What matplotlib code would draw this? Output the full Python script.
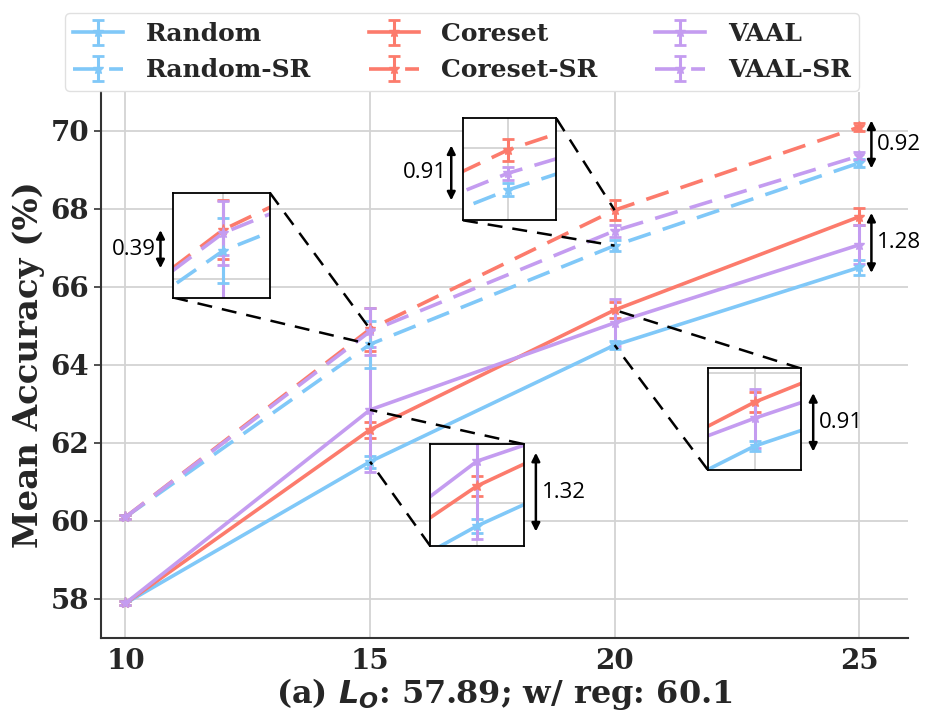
import numpy as np
import matplotlib
matplotlib.use("Agg")
import matplotlib.pyplot as plt

plt.rcParams['font.family'] = ['DejaVu Serif']
plt.rcParams['font.weight'] = 'bold'
plt.rcParams['axes.labelweight'] = 'bold'
plt.rcParams['mathtext.fontset'] = 'custom'
plt.rcParams['mathtext.it'] = 'DejaVu Sans:italic:bold'
plt.rcParams['mathtext.rm'] = 'DejaVu Sans:bold'

# data
budget = [10, 15, 20, 25]
names = ['Random', 'Coreset', 'VAAL', 'Random-SR', 'Coreset-SR', 'VAAL-SR']
random_acc = [57.89, 61.52, 64.51, 66.50]
coreset_acc = [57.89, 62.34, 65.41, 67.80]
vaal_acc = [57.89, 62.85, 65.08, 67.08]
random_sr_acc = [60.1, 64.53, 67.06, 69.18]
coreset_sr_acc = [60.1, 64.92, 67.97, 70.10]
vaal_sr_acc = [60.1, 64.86, 67.44, 69.36]
random_err = [0.05, 0.15, 0.10, 0.20]
coreset_err = [0.05, 0.20, 0.20, 0.22]
vaal_err = [0.05, 1.60, 0.60, 0.50]
random_sr_err = [0.05, 0.60, 0.15, 0.10]
coreset_sr_err = [0.05, 0.55, 0.25, 0.10]
vaal_sr_err = [0.05, 0.60, 0.15, 0.10]

accs = [random_acc, coreset_acc, vaal_acc, random_sr_acc, coreset_sr_acc, vaal_sr_acc]
errs = [random_err, coreset_err, vaal_err, random_sr_err, coreset_sr_err, vaal_sr_err]
colores = ['#80c8f8', '#fc7b6c', '#c49cf0'] * 2
estilos = ['-'] * 3 + ['--'] * 3


def dibujar(a, leyenda=True):
    hs = []
    for nombre, y, e, c, ls in zip(names, accs, errs, colores, estilos):
        h = a.errorbar(budget, y, yerr=e, color=c, ls=ls, lw=2.6, marker='*', ms=8,
                       elinewidth=2.2, capsize=4, capthick=2,
                       label=nombre if leyenda else None)
        if ls == '--':
            h[0].set_dashes([6.5, 3.5])
        hs.append(h)
    return hs


fig = plt.figure(figsize=(9.27, 7.13), dpi=100)
ax = fig.add_axes([0.109, 0.1052, 0.8706, 0.7658])
hs = dibujar(ax)

ax.set_xticks(budget)
ax.set_yticks(range(58, 71, 2))
ax.set_xlim(9.5, 26.0)
ax.set_ylim(57.0, 71.0)
ax.grid(True, color='#d3d3d3', lw=1.3)
ax.set_axisbelow(True)
for s in ['top', 'right']:
    ax.spines[s].set_visible(False)
for s in ['left', 'bottom']:
    ax.spines[s].set_color('#333333')
    ax.spines[s].set_linewidth(1.5)
ax.tick_params(axis='x', length=0, pad=7, labelsize=20, labelcolor='#262626')
ax.tick_params(axis='y', length=5, width=1.2, color='#333333', labelsize=20, labelcolor='#262626')
ax.set_ylabel('Mean Accuracy (%)', fontsize=24.5, color='#262626', fontweight='bold', labelpad=4)
ax.set_xlabel(r'(a) $L_O$: 57.89; w/ reg: 60.1', fontsize=23, color='#262626',
              fontweight='bold', labelpad=1)

# insets: bounds in data coords, zoom limits, and which points the dashes go to
insets = [
    ([10.975, 65.73, 1.974, 2.69], (14.27, 15.68), (63.66, 65.61), 1, coreset_sr_acc, random_sr_acc),
    ([16.90, 67.71, 1.91, 2.61], (19.2, 20.85), (66.37, 68.68), 2, coreset_sr_acc, random_sr_acc),
    ([16.23, 59.36, 1.91, 2.61], (14.27, 15.73), (61.11, 63.20), 1, vaal_acc, random_acc),
    ([21.90, 61.32, 1.91, 2.59], (19.19, 20.80), (64.03, 66.10), 2, coreset_acc, random_acc),
]
for b, xl, yl, k, arriba, abajo in insets:
    ins = ax.inset_axes(b, transform=ax.transData)
    dibujar(ins, leyenda=False)
    ins.set_xticks(budget)
    ins.set_yticks(range(58, 72, 2))
    ins.set_xlim(*xl)
    ins.set_ylim(*yl)
    ins.set_xticklabels([])
    ins.set_yticklabels([])
    ins.tick_params(length=0)
    ins.grid(True, color='#d3d3d3', lw=1.3)
    ins.set_axisbelow(True)
    for s in ins.spines.values():
        s.set_color('black')
        s.set_linewidth(1.3)
    x0, y0, w, h = b
    ax.plot([x0 + w, budget[k]], [y0 + h, arriba[k]], color='black', ls=(0, (6, 4)), lw=1.8, zorder=4)
    ax.plot([x0, budget[k]], [y0, abajo[k]], color='black', ls=(0, (6, 4)), lw=1.8, zorder=4)

# gap annotations
notas = [
    ('0.39', 10.715, 67.46, 66.48, 'right'),
    ('0.91', 16.66, 69.63, 68.22, 'right'),
    ('1.32', 18.39, 61.75, 59.73, 'left'),
    ('0.91', 24.06, 63.28, 61.78, 'left'),
    ('0.92', 25.25, coreset_sr_acc[3] + 0.17, random_sr_acc[3] - 0.14, 'left'),
    ('1.28', 25.25, coreset_acc[3] + 0.1, random_acc[3] - 0.14, 'left'),
]
for txt, xa, ya, yb, lado in notas:
    ax.annotate('', xy=(xa, ya), xytext=(xa, yb),
                arrowprops=dict(arrowstyle='<|-|>', color='black', lw=1.8, mutation_scale=12,
                                shrinkA=0, shrinkB=0), zorder=6)
    dx = -0.09 if lado == 'right' else 0.12
    ax.text(xa + dx, (ya + yb) / 2, txt, ha=lado, va='center', fontsize=16,
            family='Open Sans', fontweight='normal', color='black', zorder=6)

orden = [0, 3, 1, 4, 2, 5]
leg = fig.legend(handles=[hs[i] for i in orden], labels=[names[i] for i in orden],
                 loc='upper center', bbox_to_anchor=(0.4985, 0.999),
                 ncol=3, prop={'family': 'DejaVu Serif', 'weight': 'bold', 'size': 18},
                 columnspacing=2.3, handlelength=2.0, handletextpad=0.9,
                 frameon=True, fancybox=True, edgecolor='#d9d9d9',
                 borderpad=0.35, labelspacing=0.5)
for t in leg.get_texts():
    t.set_color('#262626')

fig.savefig('out.png', dpi=100)
